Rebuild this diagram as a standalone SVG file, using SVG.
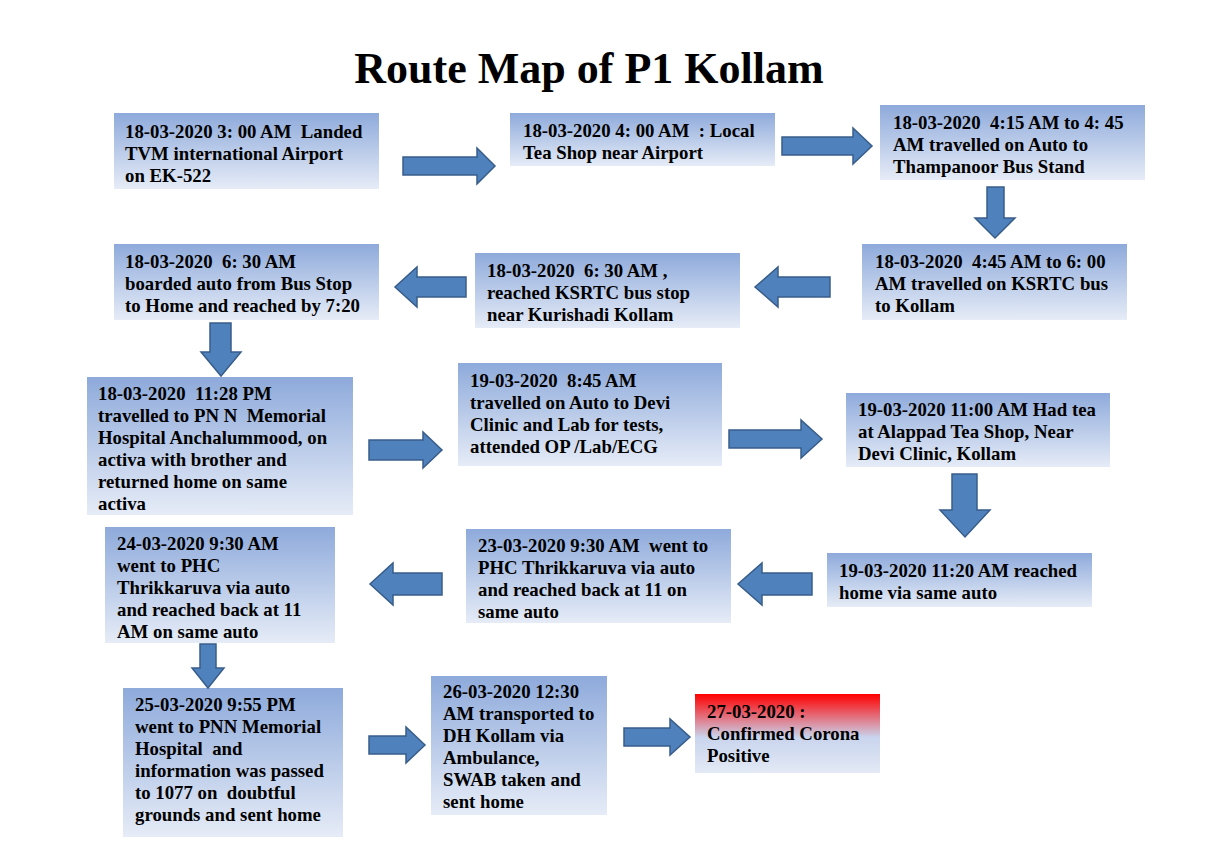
<svg xmlns="http://www.w3.org/2000/svg" width="1211" height="863" viewBox="0 0 1211 863">
<defs>
<linearGradient id="gb" x1="0" y1="0" x2="0" y2="1">
<stop offset="0" stop-color="#8eaadb"/>
<stop offset="1" stop-color="#e6ecf7"/>
</linearGradient>
<linearGradient id="gr" x1="0" y1="0" x2="0" y2="1">
<stop offset="0" stop-color="#ff0000"/>
<stop offset="0.55" stop-color="#c9d5ee"/>
<stop offset="1" stop-color="#e3e9f5"/>
</linearGradient>
<style>
.box{fill:url(#gb);}
.red{fill:url(#gr);}
.t{font-family:"Liberation Serif","Times New Roman",serif;font-weight:bold;font-size:18.8px;fill:#000;white-space:pre;}
.title{font-family:"Liberation Serif","Times New Roman",serif;font-weight:bold;font-size:44px;fill:#000;}
.arr{fill:#4f81bd;stroke:#385d8a;stroke-width:1.5;stroke-linejoin:miter;}
</style>
</defs>
<rect width="1211" height="863" fill="#ffffff"/>
<text class="title" x="589" y="83" text-anchor="middle">Route Map of P1 Kollam</text>

<g id="n1"><rect class="box" x="114" y="113" width="265" height="76"/>
<text class="t" x="125" y="138">18-03-2020 3: 00 AM  Landed</text>
<text class="t" x="125" y="160">TVM international Airport</text>
<text class="t" x="125" y="182">on EK-522</text></g>

<g id="n2"><rect class="box" x="510" y="113" width="265" height="53"/>
<text class="t" x="523" y="137">18-03-2020 4: 00 AM  : Local</text>
<text class="t" x="523" y="159">Tea Shop near Airport</text></g>

<g id="n3"><rect class="box" x="880" y="105" width="265" height="75"/>
<text class="t" x="893" y="129">18-03-2020  4:15 AM to 4: 45</text>
<text class="t" x="893" y="151">AM travelled on Auto to</text>
<text class="t" x="893" y="173">Thampanoor Bus Stand</text></g>

<g id="n4"><rect class="box" x="862" y="244" width="265" height="76"/>
<text class="t" x="875" y="268">18-03-2020  4:45 AM to 6: 00</text>
<text class="t" x="875" y="290">AM travelled on KSRTC bus</text>
<text class="t" x="875" y="312">to Kollam</text></g>

<g id="n5"><rect class="box" x="475" y="253" width="265" height="75"/>
<text class="t" x="487" y="277">18-03-2020  6: 30 AM ,</text>
<text class="t" x="487" y="299">reached KSRTC bus stop</text>
<text class="t" x="487" y="321">near Kurishadi Kollam</text></g>

<g id="n6"><rect class="box" x="114" y="244" width="265" height="76"/>
<text class="t" x="125" y="268">18-03-2020  6: 30 AM</text>
<text class="t" x="125" y="290">boarded auto from Bus Stop</text>
<text class="t" x="125" y="312">to Home and reached by 7:20</text></g>

<g id="n7"><rect class="box" x="87" y="377" width="266" height="138"/>
<text class="t" x="98" y="400">18-03-2020  11:28 PM</text>
<text class="t" x="98" y="422">travelled to PN N  Memorial</text>
<text class="t" x="98" y="444">Hospital Anchalummood, on</text>
<text class="t" x="98" y="466">activa with brother and</text>
<text class="t" x="98" y="488">returned home on same</text>
<text class="t" x="98" y="510">activa</text></g>

<g id="n8"><rect class="box" x="458" y="363" width="264" height="103"/>
<text class="t" x="470" y="387">19-03-2020  8:45 AM</text>
<text class="t" x="470" y="409">travelled on Auto to Devi</text>
<text class="t" x="470" y="431">Clinic and Lab for tests,</text>
<text class="t" x="470" y="453">attended OP /Lab/ECG</text></g>

<g id="n9"><rect class="box" x="846" y="393" width="264" height="74"/>
<text class="t" x="858" y="416">19-03-2020 11:00 AM Had tea</text>
<text class="t" x="858" y="438">at Alappad Tea Shop, Near</text>
<text class="t" x="858" y="460">Devi Clinic, Kollam</text></g>

<g id="n10"><rect class="box" x="827" y="553" width="265" height="54"/>
<text class="t" x="839" y="577">19-03-2020 11:20 AM reached</text>
<text class="t" x="839" y="599">home via same auto</text></g>

<g id="n11"><rect class="box" x="466" y="529" width="265" height="94"/>
<text class="t" x="478" y="552">23-03-2020 9:30 AM  went to</text>
<text class="t" x="478" y="574">PHC Thrikkaruva via auto</text>
<text class="t" x="478" y="596">and reached back at 11 on</text>
<text class="t" x="478" y="618">same auto</text></g>

<g id="n12"><rect class="box" x="105" y="527" width="230" height="116"/>
<text class="t" x="117" y="550">24-03-2020 9:30 AM</text>
<text class="t" x="117" y="572">went to PHC</text>
<text class="t" x="117" y="594">Thrikkaruva via auto</text>
<text class="t" x="117" y="616">and reached back at 11</text>
<text class="t" x="117" y="638">AM on same auto</text></g>

<g id="n13"><rect class="box" x="123" y="688" width="220" height="149"/>
<text class="t" x="135" y="711">25-03-2020 9:55 PM</text>
<text class="t" x="135" y="733">went to PNN Memorial</text>
<text class="t" x="135" y="755">Hospital  and</text>
<text class="t" x="135" y="777">information was passed</text>
<text class="t" x="135" y="799">to 1077 on  doubtful</text>
<text class="t" x="135" y="821">grounds and sent home</text></g>

<g id="n14"><rect class="box" x="431" y="676" width="176" height="139"/>
<text class="t" x="443" y="698">26-03-2020 12:30</text>
<text class="t" x="443" y="720">AM transported to</text>
<text class="t" x="443" y="742">DH Kollam via</text>
<text class="t" x="443" y="764">Ambulance,</text>
<text class="t" x="443" y="786">SWAB taken and</text>
<text class="t" x="443" y="808">sent home</text></g>

<g id="n15"><rect class="red" x="695" y="694" width="185" height="79"/>
<text class="t" x="707" y="718">27-03-2020 :</text>
<text class="t" x="707" y="740">Confirmed Corona</text>
<text class="t" x="707" y="762">Positive</text></g>

<g id="connectors">
<polygon class="arr" points="403,157 477,157 477,148 495,166 477,184 477,175 403,175"/>
<polygon class="arr" points="782,137 853,137 853,128 872,146 853,164 853,155 782,155"/>
<polygon class="arr" points="987,187 1004,187 1004,218 1015,218 995,238 975,218 987,218"/>
<polygon class="arr" points="830,277 778,277 778,267 755,287 778,307 778,297 830,297"/>
<polygon class="arr" points="466,277 417,277 417,267 395,287 417,307 417,297 466,297"/>
<polygon class="arr" points="210,323 231,323 231,352 241,352 221,376 201,352 210,352"/>
<polygon class="arr" points="369,440 423,440 423,432 442,450 423,468 423,460 369,460"/>
<polygon class="arr" points="729,430 801,430 801,420 822,439 801,458 801,448 729,448"/>
<polygon class="arr" points="952,474 977,474 977,510 990,510 965,537 940,510 952,510"/>
<polygon class="arr" points="812,573 762,573 762,563 738,584 762,605 762,595 812,595"/>
<polygon class="arr" points="442,573 393,573 393,563 370,584 393,605 393,595 442,595"/>
<polygon class="arr" points="200,644 216,644 216,668 224,668 208,688 192,668 200,668"/>
<polygon class="arr" points="369,736 406,736 406,727 425,745 406,763 406,754 369,754"/>
<polygon class="arr" points="624,728 670,728 670,719 690,737 670,755 670,746 624,746"/>
</g>
</svg>
